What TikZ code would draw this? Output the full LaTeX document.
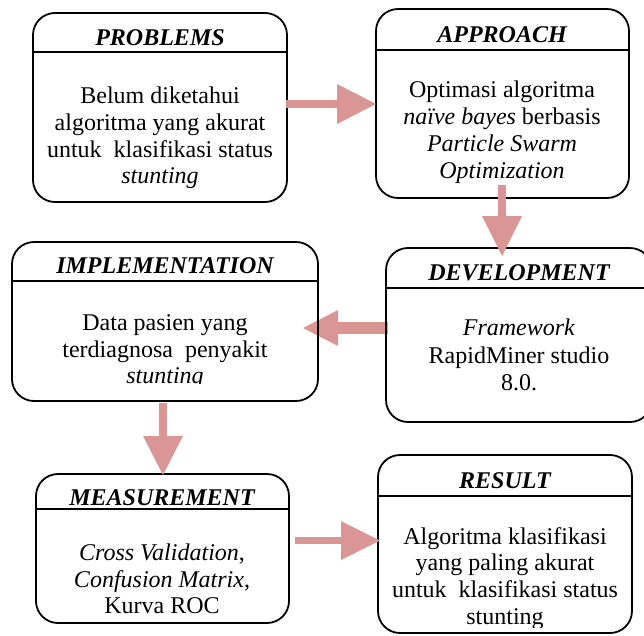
\documentclass[tikz,border=0pt]{standalone}
\usepackage{fontspec}
\setmainfont{Liberation Serif}
\usetikzlibrary{arrows.meta}
\definecolor{pinkarrow}{RGB}{217,150,148}
\begin{document}
\begin{tikzpicture}[x=1pt,y=-1pt,
  box/.style={draw, line width=1.8pt, rounded corners=22pt, inner sep=0pt},
  sepline/.style={line width=1.5pt},
  title/.style={anchor=base, inner sep=0pt, font=\fontsize{24}{26.7}\selectfont\bfseries\itshape},
  body/.style={anchor=base, inner sep=0pt, font=\fontsize{24}{26.7}\selectfont},
  blockarrow/.style={draw=pinkarrow, line width=#1, line cap=butt}
]
\useasboundingbox (0,0) rectangle (644,635);

% arrow development -> implementation (under the box border)
\coordinate (a3s) at (388,328);
\coordinate (a3e) at (303,328);
\draw[blockarrow=12pt, -{Triangle[width=36pt,length=35pt,line width=0pt,fill=pinkarrow]}] (a3s) -- (a3e);

% boxes
\node[box, minimum width=254pt, minimum height=189pt] (prob) at (160,107.5) {};
\node[box, minimum width=253pt, minimum height=189pt] (appr) at (502.5,103.5) {};
\node[box, minimum width=266pt, minimum height=174pt] (dev) at (519,335) {};
\node[box, minimum width=306pt, minimum height=159pt] (impl) at (165,321.5) {};
\node[box, minimum width=253pt, minimum height=149pt] (meas) at (162.5,548.5) {};
\node[box, minimum width=254pt, minimum height=178pt] (res) at (505,544) {};

% separators
\draw[sepline] ([yshift=-40pt]prob.north west) -- ([yshift=-40pt]prob.north east);
\draw[sepline] ([yshift=-42pt]appr.north west) -- ([yshift=-42pt]appr.north east);
\draw[sepline] ([yshift=-41pt]dev.north west) -- ([yshift=-41pt]dev.north east);
\draw[sepline] ([yshift=-40pt]impl.north west) -- ([yshift=-40pt]impl.north east);
\draw[sepline] ([yshift=-36pt]meas.north west) -- ([yshift=-36pt]meas.north east);
\draw[sepline] ([yshift=-42pt]res.north west) -- ([yshift=-42pt]res.north east);

% titles
\node[title] (tprob) at (160,45) {PROBLEMS};
\node[title] (tappr) at (502,42) {APPROACH};
\node[title] (timpl) at (165,273) {IMPLEMENTATION};
\node[title] (tdev) at (519,280) {DEVELOPMENT};
\node[title] (tmeas) at (162,505) {MEASUREMENT};
\node[title] (tres) at (505,488) {RESULT};

% PROBLEMS body
\node[body] (p1) at (160,103) {Belum diketahui};
\node[body] (p2) at (160,130) {algoritma yang akurat};
\node[body] (p3) at (160,157) {untuk\ \ klasifikasi status};
\node[body] (p4) at (160,183) {\textit{stunting}};

% APPROACH body
\node[body] (q1) at (502,97) {Optimasi algoritma};
\node[body] (q2) at (502,124) {\textit{naïve bayes} berbasis};
\node[body] (q3) at (502,151) {\textit{Particle Swarm}};
\node[body] (q4) at (502,178) {\textit{Optimization}};

% IMPLEMENTATION body
\node[body] (i1) at (165,330) {Data pasien yang};
\node[body] (i2) at (165,357) {terdiagnosa\ \ penyakit};
\begin{scope}
  \clip (0,0) rectangle (644,383.5);
  \node[body] (i3) at (165,383) {\textit{stunting}};
\end{scope}

% DEVELOPMENT body
\node[body] (d1) at (519,335) {\textit{Framework}};
\node[body] (d2) at (519,363) {RapidMiner studio};
\node[body] (d3) at (519,390) {8.0.};

% MEASUREMENT body
\node[body] (m1) at (162,560) {\textit{Cross Validation},};
\node[body] (m2) at (162,587) {\textit{Confusion Matrix},};
\node[body] (m3) at (162,613) {Kurva ROC};

% RESULT body
\node[body] (r1) at (505,544) {Algoritma klasifikasi};
\node[body] (r2) at (505,570) {yang paling akurat};
\node[body] (r3) at (505,597) {untuk\ \ klasifikasi status};
\begin{scope}
  \clip (0,0) rectangle (644,627);
  \node[body] (r4) at (505,624) {stunting};
\end{scope}

% other arrows
\coordinate (a1s) at (286,104);
\coordinate (a1e) at (376,104);
\draw[blockarrow=8pt, -{Triangle[width=40pt,length=39pt,line width=0pt,fill=pinkarrow]}] (a1s) -- (a1e);

\coordinate (a2s) at (502,185);
\coordinate (a2e) at (502,256);
\draw[blockarrow=8pt, -{Triangle[width=40pt,length=40pt,line width=0pt,fill=pinkarrow]}] (a2s) -- (a2e);

\coordinate (a4s) at (163,403);
\coordinate (a4e) at (163,475);
\draw[blockarrow=8pt, -{Triangle[width=40pt,length=39pt,line width=0pt,fill=pinkarrow]}] (a4s) -- (a4e);

\coordinate (a5s) at (295,540.5);
\coordinate (a5e) at (380,540.5);
\draw[blockarrow=7.5pt, -{Triangle[width=39pt,length=39pt,line width=0pt,fill=pinkarrow]}] (a5s) -- (a5e);
\end{tikzpicture}
\end{document}
